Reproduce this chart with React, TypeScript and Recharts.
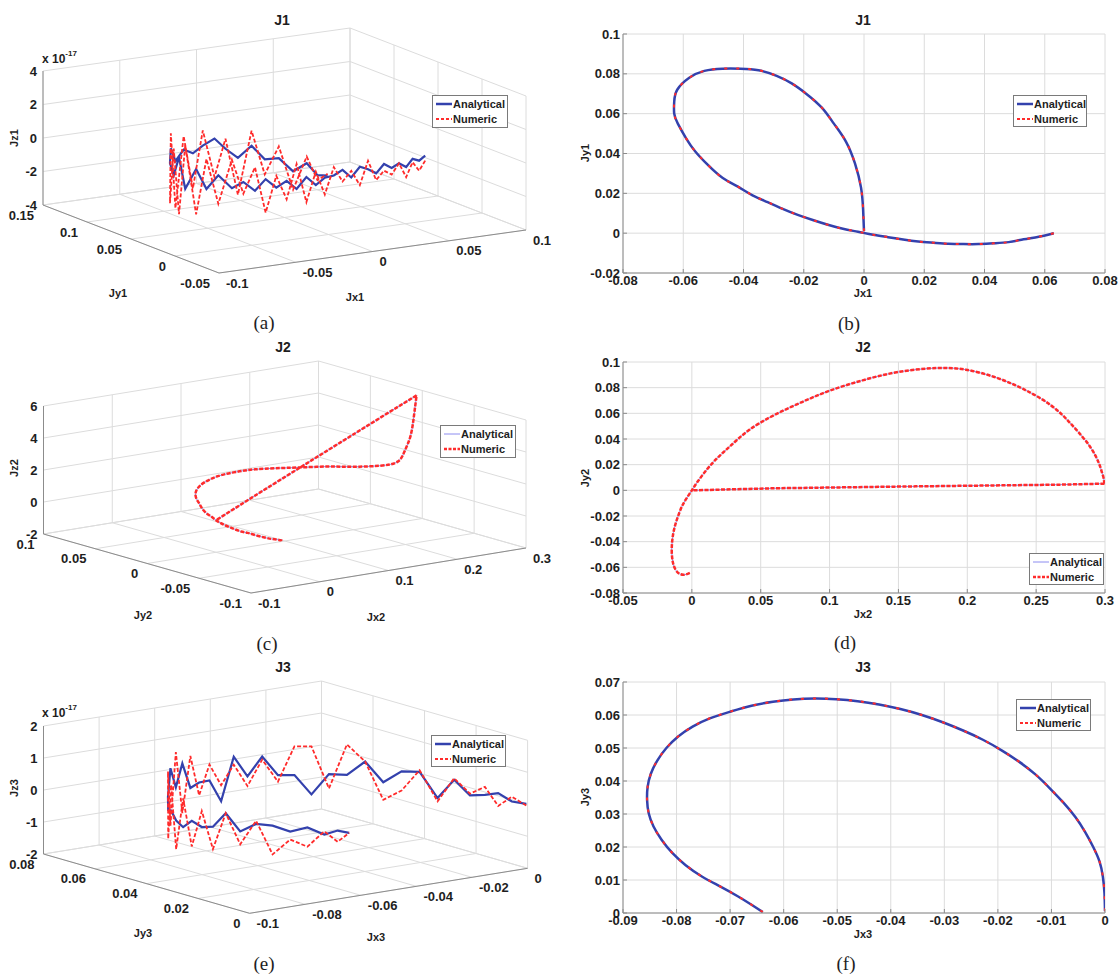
import React from 'react';
import {
  ComposedChart,
  LineChart,
  Line,
  XAxis,
  YAxis,
  CartesianGrid,
  ReferenceLine,
  Scatter,
} from 'recharts';

const SANS = '"Liberation Sans", Arial, Helvetica, sans-serif';
const SERIF = '"Liberation Serif", "Times New Roman", serif';
const BLUE = '#3341ad';
const BLUE_THIN = '#8c8cf0';
const RED = '#ff2b2b';
const GRID = '#dcdcdc';
const AXIS = '#8c8c8c';
const TEXT = '#1e1e1e';
const W_TXT = 'bold';

// ---------------- J1 ----------------
const j1X = [0.063, 0.058, 0.053, 0.048, 0.043, 0.038, 0.033, 0.028, 0.023, 0.018, 0.013, 0.008, 0.003, -0.002, -0.007, -0.012, -0.017, -0.022, -0.027, -0.032, -0.037, -0.042, -0.047, -0.052, -0.056, -0.059, -0.0618, -0.063, -0.063, -0.062, -0.058, -0.053, -0.047, -0.041, -0.035, -0.029, -0.024, -0.019, -0.014, -0.01, -0.006, -0.003, -0.001, -0.0003, 0.0];
const j1Y = [0.0, -0.0018, -0.0031, -0.0045, -0.0051, -0.0055, -0.0055, -0.0053, -0.0048, -0.0042, -0.0032, -0.002, -0.0008, 0.0007, 0.0022, 0.0042, 0.0066, 0.0092, 0.0122, 0.0156, 0.019, 0.0235, 0.0278, 0.0345, 0.041, 0.0475, 0.055, 0.06, 0.066, 0.072, 0.078, 0.0815, 0.0826, 0.0826, 0.0818, 0.079, 0.0752, 0.0698, 0.063, 0.055, 0.046, 0.035, 0.023, 0.012, 0.001];
const j1ZAnalytical = [-0.1, -0.3, -0.1, -0.5, -0.2, -0.4, -0.1, -0.6, -0.3, -0.1, -0.7, -0.2, -0.5, -0.6, -1.0, -0.5, -1.2, -0.7, -1.1, -0.6, -1.3, -0.8, -1.2, -0.5, -1.4, -0.3, -1.6, 0.2, -1.0, -0.4, 0.3, -0.6, 0.0, -0.3, 0.1, 0.5, -0.1, -0.6, 0.2, -0.5, -0.3, -0.9, -0.2, -0.7, -0.5];
const j1ZNumeric = [-0.4, -0.9, -0.3, -1.1, -0.2, -0.8, -0.5, -1.0, 0.2, -1.2, -0.3, -0.9, 0.0, -1.6, -0.2, -2.0, 0.3, -1.8, -0.4, -2.6, 0.1, -1.5, 0.5, -2.2, 0.4, -3.0, 1.0, -3.2, 0.6, -2.8, 1.2, -3.4, 0.8, -2.4, 1.0, -1.8, 0.5, -2.8, 1.1, -1.4, 0.4, -2.0, 0.2, -1.0, -0.4];

// ---------------- J2 ----------------
const j2X = [-0.0015, -0.005, -0.009, -0.012, -0.0138, -0.0146, -0.0143, -0.0134, -0.0118, -0.0098, -0.0072, -0.004, 0.0, 0.004, 0.01, 0.018, 0.0284, 0.0413, 0.0594, 0.08, 0.1007, 0.124, 0.1498, 0.178, 0.199, 0.2197, 0.2402, 0.2608, 0.2763, 0.2893, 0.2957, 0.2975, 0.2988, 0.2993, 0.2996, 0.266, 0.1627, 0.0594, 0.0];
const j2Y = [-0.0643, -0.0657, -0.065, -0.0615, -0.056, -0.048, -0.04, -0.033, -0.026, -0.0195, -0.0125, -0.0065, 0.0, 0.0065, 0.015, 0.0247, 0.035, 0.0468, 0.0584, 0.0688, 0.0779, 0.0857, 0.0922, 0.0953, 0.094, 0.0883, 0.0792, 0.0662, 0.0506, 0.0338, 0.0208, 0.015, 0.0104, 0.0075, 0.0052, 0.0044, 0.0031, 0.0016, 0.0];
const j2Z = [0, 0, 0.05, 0.05, 0.05, 0.05, 0.05, 0, 0, 0, 0, 0, 0, 0.05, 0.05, 0.1, 0.2, 0.3, 0.35, 0.3, 0.22, 0.17, 0.1, 0.05, 0.05, 0.08, 0.15, 0.3, 0.47, 0.75, 1.2, 2.0, 3.0, 4.3, 5.6, 5.0, 3.05, 1.1, 0];
// index where the curved arc ends and the straight return segment begins
const j2Corner = 34;

// ---------------- J3 ----------------
const j3X = [0, -0.0001, -0.0004, -0.001, -0.0022, -0.0037, -0.0055, -0.0078, -0.0103, -0.013, -0.016, -0.0193, -0.0228, -0.0265, -0.0303, -0.0342, -0.0382, -0.0422, -0.0462, -0.0502, -0.0542, -0.0582, -0.062, -0.066, -0.07, -0.0738, -0.077, -0.0797, -0.0819, -0.0836, -0.0848, -0.0854, -0.0855, -0.0852, -0.0843, -0.0828, -0.0808, -0.0783, -0.0752, -0.0718, -0.0685, -0.066, -0.0639];
const j3Y = [0.0005, 0.006, 0.011, 0.0155, 0.02, 0.0245, 0.029, 0.0335, 0.0378, 0.042, 0.0458, 0.0493, 0.0525, 0.0553, 0.0578, 0.06, 0.0618, 0.0632, 0.0642, 0.0648, 0.065, 0.0647, 0.064, 0.0628, 0.061, 0.059, 0.0565, 0.0535, 0.05, 0.0462, 0.0422, 0.0382, 0.0342, 0.0302, 0.0262, 0.0222, 0.0182, 0.0145, 0.011, 0.008, 0.005, 0.0025, 0.0003];
const j3ZAnalytical = [0, -0.05, 0.1, -0.05, -0.15, 0.25, -0.4, 0.35, 0.3, -0.1, 0.5, 0.05, 0.05, -0.6, 0, 0, 0.6, 0, 0.65, -0.7, 0, 0, -0.1, 0.75, 0.1, 0.8, 0, -0.3, -0.2, -0.4, -0.5, -0.2, -0.3, -0.2, 0.3, -0.2, 0.1, 0.1, -0.05, 0.1, -0.1, 0.05, 0];
const j3ZNumeric = [-0.05, 0.1, -0.3, 0.2, -0.1, 0.3, -0.5, 0.4, -0.3, -0.65, 0.5, 1.0, -0.4, 0.9, 0.9, -0.2, 0.5, -0.3, 0.4, -0.2, 0.5, -0.4, 0.9, -0.8, 1.2, -1.0, 0.8, -1.2, 0.6, -1.3, 0.4, -1.0, 0.2, -0.9, 0.3, -0.6, 0.2, -0.8, -0.3, -0.5, 0.0, -0.3, 0.0];

// ---------------- tick labels ----------------
const aXTicks = [-0.1, -0.05, 0, 0.05, 0.1];
const aYTicks = [-0.05, 0, 0.05, 0.1, 0.15];
const aZTicks = [-4, -2, 0, 2, 4];
const bXTicks = [-0.08, -0.06, -0.04, -0.02, 0, 0.02, 0.04, 0.06, 0.08];
const bYTicks = [-0.02, 0, 0.02, 0.04, 0.06, 0.08, 0.1];
const cXTicks = [-0.1, 0, 0.1, 0.2, 0.3];
const cYTicks = [-0.1, -0.05, 0, 0.05, 0.1];
const cZTicks = [-2, 0, 2, 4, 6];
const dXTicks = [-0.05, 0, 0.05, 0.1, 0.15, 0.2, 0.25, 0.3];
const dYTicks = [-0.08, -0.06, -0.04, -0.02, 0, 0.02, 0.04, 0.06, 0.08, 0.1];
const eXTicks = [-0.1, -0.08, -0.06, -0.04, -0.02, 0];
const eYTicks = [0, 0.02, 0.04, 0.06, 0.08];
const eZTicks = [-2, -1, 0, 1, 2];
const fXTicks = [-0.09, -0.08, -0.07, -0.06, -0.05, -0.04, -0.03, -0.02, -0.01, 0];
const fYTicks = [0, 0.01, 0.02, 0.03, 0.04, 0.05, 0.06, 0.07];

type V2 = [number, number];
interface Box3D {
  xr: V2; yr: V2; zr: V2;
  xt: number[]; yt: number[]; zt: number[];
  o: V2; ex: V2; ey: V2; ez: V2;
}

function project(b: Box3D, x: number, y: number, z: number) {
  const fx = (x - b.xr[0]) / (b.xr[1] - b.xr[0]);
  const fy = (y - b.yr[0]) / (b.yr[1] - b.yr[0]);
  const fz = (z - b.zr[0]) / (b.zr[1] - b.zr[0]);
  return {
    u: b.o[0] + fx * b.ex[0] + fy * b.ey[0] + fz * b.ez[0],
    v: b.o[1] + fx * b.ex[1] + fy * b.ey[1] + fz * b.ez[1],
  };
}

const labelShape = (dx: number, dy: number, anchor: string) => (props: any) => (
  <text
    x={props.cx + dx}
    y={props.cy + dy}
    textAnchor={anchor}
    dominantBaseline="central"
    fontSize={13}
    fontWeight={W_TXT}
    fontFamily={SANS}
    fill={TEXT}
  >
    {props.payload.label}
  </text>
);

interface Series3D { xs: number[]; ys: number[]; zs: number[]; color: string; width: number; dash?: string; curve?: 'linear' | 'natural' }

function Panel3D({ box, left, top, width, height, series }: { box: Box3D; left: number; top: number; width: number; height: number; series: Series3D[] }) {
  const [x0, x1] = box.xr;
  const [y0, y1] = box.yr;
  const [z0, z1] = box.zr;
  const P = (x: number, y: number, z: number) => project(box, x, y, z);
  const seg = (a: { u: number; v: number }, b: { u: number; v: number }) => [
    { x: a.u, y: a.v },
    { x: b.u, y: b.v },
  ];
  const grid: any[] = [];
  box.xt.forEach((x) => {
    grid.push(seg(P(x, y0, z0), P(x, y1, z0)));
    grid.push(seg(P(x, y1, z0), P(x, y1, z1)));
  });
  box.yt.forEach((y) => {
    grid.push(seg(P(x0, y, z0), P(x1, y, z0)));
    grid.push(seg(P(x1, y, z0), P(x1, y, z1)));
  });
  box.zt.forEach((z) => {
    grid.push(seg(P(x0, y1, z), P(x1, y1, z)));
    grid.push(seg(P(x1, y0, z), P(x1, y1, z)));
  });
  const axes = [
    seg(P(x0, y0, z0), P(x0, y1, z0)),
    seg(P(x0, y0, z0), P(x1, y0, z0)),
    seg(P(x0, y1, z0), P(x0, y1, z1)),
  ];
  const xLab = box.xt.map((x) => ({ ...P(x, y0, z0), label: String(x) }));
  const yLab = box.yt.map((y) => ({ ...P(x0, y, z0), label: String(y) }));
  const zLab = box.zt.map((z) => ({ ...P(x0, y1, z), label: String(z) }));
  return (
    <div style={{ position: 'absolute', left, top, width, height }}>
      <ComposedChart width={width} height={height} margin={{ top: 0, right: 0, bottom: 0, left: 0 }}>
        <XAxis type="number" dataKey="u" domain={[0, width]} hide allowDataOverflow />
        <YAxis type="number" dataKey="v" domain={[0, height]} reversed hide allowDataOverflow />
        {grid.map((s, i) => (
          <ReferenceLine key={'g' + i} segment={s} stroke={GRID} strokeWidth={1} ifOverflow="visible" />
        ))}
        {axes.map((s, i) => (
          <ReferenceLine key={'a' + i} segment={s} stroke={AXIS} strokeWidth={1} ifOverflow="visible" />
        ))}
        {series.map((s, i) => (
          <Line
            key={'s' + i}
            data={s.xs.map((x, k) => P(x, s.ys[k], s.zs[k]))}
            dataKey="v"
            type={s.curve || 'linear'}
            stroke={s.color}
            strokeWidth={s.width}
            strokeDasharray={s.dash}
            dot={false}
            activeDot={false}
            isAnimationActive={false}
          />
        ))}
        <Scatter data={xLab} shape={labelShape(7, 10, 'start')} isAnimationActive={false} />
        <Scatter data={yLab} shape={labelShape(-9, 10, 'end')} isAnimationActive={false} />
        <Scatter data={zLab} shape={labelShape(-6, 0, 'end')} isAnimationActive={false} />
      </ComposedChart>
    </div>
  );
}

interface Path2D { xs: number[]; ys: number[]; curve: 'linear' | 'natural' }

interface Panel2DProps {
  left: number; top: number; width: number; height: number;
  margin: { top: number; right: number; bottom: number; left: number };
  xDomain: V2; xTicks: number[]; yDomain: V2; yTicks: number[];
  paths: Path2D[]; thin?: boolean;
}

function Panel2D(p: Panel2DProps) {
  const tick = { fontSize: 13, fill: TEXT, fontFamily: SANS, fontWeight: W_TXT };
  return (
    <div style={{ position: 'absolute', left: p.left, top: p.top, width: p.width, height: p.height }}>
      <LineChart width={p.width} height={p.height} margin={p.margin}>
        <CartesianGrid stroke={GRID} />
        <XAxis
          type="number"
          dataKey="x"
          domain={p.xDomain}
          ticks={p.xTicks}
          interval={0}
          allowDataOverflow
          tick={tick}
          tickLine={{ stroke: AXIS }}
          tickSize={-4}
          tickMargin={7}
          axisLine={{ stroke: AXIS }}
          height={30}
        />
        <YAxis
          type="number"
          domain={p.yDomain}
          ticks={p.yTicks}
          interval={0}
          allowDataOverflow
          tick={tick}
          tickLine={{ stroke: AXIS }}
          tickSize={-4}
          tickMargin={7}
          axisLine={{ stroke: AXIS }}
          width={60}
        />
        {p.paths.map((path, i) => (
          <Line
            key={'b' + i}
            data={path.xs.map((x, k) => ({ x, y: path.ys[k] }))}
            dataKey="y"
            type={path.curve}
            stroke={p.thin ? BLUE_THIN : BLUE}
            strokeWidth={p.thin ? 1 : 2.5}
            dot={false}
            activeDot={false}
            isAnimationActive={false}
          />
        ))}
        {p.paths.map((path, i) => (
          <Line
            key={'r' + i}
            data={path.xs.map((x, k) => ({ x, y: path.ys[k] }))}
            dataKey="y"
            type={path.curve}
            stroke={RED}
            strokeWidth={p.thin ? 2.5 : 2}
            strokeDasharray={p.thin ? '4 1.5' : '3 9'}
            dot={false}
            activeDot={false}
            isAnimationActive={false}
          />
        ))}
      </LineChart>
    </div>
  );
}

function Txt({ x, y, children, size = 11, font = SANS, rot = false, weight = W_TXT }: any) {
  return (
    <div
      style={{
        position: 'absolute',
        left: x,
        top: y,
        transform: `translate(-50%, -50%)${rot ? ' rotate(-90deg)' : ''}`,
        fontFamily: font,
        fontSize: size,
        fontWeight: weight,
        color: TEXT,
        whiteSpace: 'nowrap',
        lineHeight: 1,
      }}
    >
      {children}
    </div>
  );
}

function Exp({ x, y }: { x: number; y: number }) {
  return (
    <div style={{ position: 'absolute', left: x, top: y, fontFamily: SANS, fontSize: 12, fontWeight: W_TXT, color: TEXT, whiteSpace: 'nowrap', lineHeight: 1 }}>
      x 10<sup style={{ fontSize: 8, position: 'relative', top: -2 }}>-17</sup>
    </div>
  );
}

function LegendBox({ x, y, w, h, thin }: { x: number; y: number; w: number; h: number; thin?: boolean }) {
  const items = [
    { label: 'Analytical', color: thin ? BLUE_THIN : BLUE, width: thin ? 1 : 2.5, dash: undefined as string | undefined },
    { label: 'Numeric', color: RED, width: thin ? 2.5 : 1.8, dash: thin ? '3 1.5' : '3 2' },
  ];
  return (
    <div style={{ position: 'absolute', left: x, top: y, width: w, height: h, border: '1px solid #7a7a7a', background: '#fff', boxSizing: 'border-box' }}>
      {items.map((it, i) => (
        <div key={i} style={{ position: 'absolute', left: 3, top: 1 + i * 15, height: 14, display: 'flex', alignItems: 'center', fontFamily: SANS, fontSize: 11, fontWeight: W_TXT, color: TEXT }}>
          <svg width={16} height={6} style={{ display: 'block' }}>
            <line x1={0} y1={3} x2={16} y2={3} stroke={it.color} strokeWidth={it.width} strokeDasharray={it.dash} />
          </svg>
          <span style={{ marginLeft: 1 }}>{it.label}</span>
        </div>
      ))}
    </div>
  );
}

const boxA: Box3D = {
  xr: [-0.1, 0.1], yr: [-0.05, 0.15], zr: [-4, 4],
  xt: aXTicks, yt: aYTicks, zt: aZTicks,
  o: [219, 273], ex: [307, -43], ey: [-176, -68], ez: [0, -134],
};
const boxC: Box3D = {
  xr: [-0.1, 0.3], yr: [-0.1, 0.1], zr: [-2, 6],
  xt: cXTicks, yt: cYTicks, zt: cZTicks,
  o: [251, 263], ex: [275, -45], ey: [-207.5, -59], ez: [0, -128],
};
const boxE: Box3D = {
  xr: [-0.1, 0], yr: [0, 0.08], zr: [-2, 2],
  xt: eXTicks, yt: eYTicks, zt: eZTicks,
  o: [249.6, 263.3], ex: [278, -45], ey: [-206.1, -59.3], ez: [0, -128],
};

const j2ArcX = j2X.slice(0, j2Corner + 1);
const j2ArcY = j2Y.slice(0, j2Corner + 1);
const j2ArcZ = j2Z.slice(0, j2Corner + 1);
const j2RetX = j2X.slice(j2Corner);
const j2RetY = j2Y.slice(j2Corner);
const j2RetZ = j2Z.slice(j2Corner);

export default function App() {
  return (
    <div style={{ position: 'absolute', left: 0, top: 0, width: 1119, height: 978, background: '#fff', overflow: 'hidden' }}>
      {/* (a) */}
      <Panel3D
        box={boxA} left={0} top={0} width={560} height={330}
        series={[
          { xs: j1X, ys: j1Y, zs: j1ZAnalytical, color: BLUE, width: 2.2 },
          { xs: j1X, ys: j1Y, zs: j1ZNumeric, color: RED, width: 1.8, dash: '4 2' },
        ]}
      />
      {/* (b) */}
      <Panel2D
        left={560} top={0} width={559} height={330}
        margin={{ top: 34, right: 14, bottom: 27, left: 3 }}
        xDomain={[-0.08, 0.08]} xTicks={bXTicks} yDomain={[-0.02, 0.1]} yTicks={bYTicks}
        paths={[{ xs: j1X, ys: j1Y, curve: 'natural' }]}
      />
      {/* (c) */}
      <Panel3D
        box={boxC} left={0} top={330} width={560} height={320}
        series={[
          { xs: j2ArcX, ys: j2ArcY, zs: j2ArcZ, color: BLUE_THIN, width: 1, curve: 'natural' },
          { xs: j2RetX, ys: j2RetY, zs: j2RetZ, color: BLUE_THIN, width: 1 },
          { xs: j2ArcX, ys: j2ArcY, zs: j2ArcZ, color: RED, width: 2.5, dash: '4 1.5', curve: 'natural' },
          { xs: j2RetX, ys: j2RetY, zs: j2RetZ, color: RED, width: 2.5, dash: '4 1.5' },
        ]}
      />
      {/* (d) */}
      <Panel2D
        left={560} top={330} width={559} height={320}
        margin={{ top: 32, right: 14, bottom: 27, left: 3 }}
        xDomain={[-0.05, 0.3]} xTicks={dXTicks} yDomain={[-0.08, 0.1]} yTicks={dYTicks}
        paths={[
          { xs: j2ArcX, ys: j2ArcY, curve: 'natural' },
          { xs: j2RetX, ys: j2RetY, curve: 'linear' },
        ]}
        thin
      />
      {/* (e) */}
      <Panel3D
        box={boxE} left={0} top={650} width={560} height={328}
        series={[
          { xs: j3X, ys: j3Y, zs: j3ZAnalytical, color: BLUE, width: 2.2 },
          { xs: j3X, ys: j3Y, zs: j3ZNumeric, color: RED, width: 1.8, dash: '4 2' },
        ]}
      />
      {/* (f) */}
      <Panel2D
        left={560} top={650} width={559} height={328}
        margin={{ top: 32, right: 14, bottom: 35, left: 3 }}
        xDomain={[-0.09, 0]} xTicks={fXTicks} yDomain={[0, 0.07]} yTicks={fYTicks}
        paths={[{ xs: j3X, ys: j3Y, curve: 'natural' }]}
      />

      {/* titles */}
      <Txt x={282} y={20} size={14}>J1</Txt>
      <Txt x={863} y={20} size={14}>J1</Txt>
      <Txt x={283} y={347} size={14}>J2</Txt>
      <Txt x={863} y={347} size={14}>J2</Txt>
      <Txt x={283} y={667} size={14}>J3</Txt>
      <Txt x={863} y={667} size={14}>J3</Txt>

      {/* exponents */}
      <Exp x={42} y={52} />
      <Exp x={42} y={706} />

      {/* axis labels (a) */}
      <Txt x={14} y={138} rot>Jz1</Txt>
      <Txt x={118} y={293}>Jy1</Txt>
      <Txt x={355} y={297}>Jx1</Txt>
      {/* (b) */}
      <Txt x={585} y={153} rot>Jy1</Txt>
      <Txt x={863} y={293}>Jx1</Txt>
      {/* (c) */}
      <Txt x={14} y={468} rot>Jz2</Txt>
      <Txt x={143} y={615}>Jy2</Txt>
      <Txt x={376} y={617}>Jx2</Txt>
      {/* (d) */}
      <Txt x={585} y={478} rot>Jy2</Txt>
      <Txt x={863} y={614}>Jx2</Txt>
      {/* (e) */}
      <Txt x={14} y={788} rot>Jz3</Txt>
      <Txt x={143} y={933}>Jy3</Txt>
      <Txt x={376} y={937}>Jx3</Txt>
      {/* (f) */}
      <Txt x={585} y={797} rot>Jy3</Txt>
      <Txt x={863} y={934}>Jx3</Txt>

      {/* captions */}
      <Txt x={264} y={322} size={19} font={SERIF} weight="normal">(a)</Txt>
      <Txt x={849} y={323} size={19} font={SERIF} weight="normal">(b)</Txt>
      <Txt x={267} y={643} size={19} font={SERIF} weight="normal">(c)</Txt>
      <Txt x={845} y={642} size={19} font={SERIF} weight="normal">(d)</Txt>
      <Txt x={264} y={963} size={19} font={SERIF} weight="normal">(e)</Txt>
      <Txt x={846} y={963} size={19} font={SERIF} weight="normal">(f)</Txt>

      {/* legends */}
      <LegendBox x={432} y={95} w={76} h={33} />
      <LegendBox x={1013} y={95} w={74} h={32} />
      <LegendBox x={440} y={425} w={76} h={33} thin />
      <LegendBox x={1029} y={553} w={75} h={32} thin />
      <LegendBox x={431} y={735} w={75} h={32} />
      <LegendBox x={1016} y={699} w={75} h={32} />
    </div>
  );
}
